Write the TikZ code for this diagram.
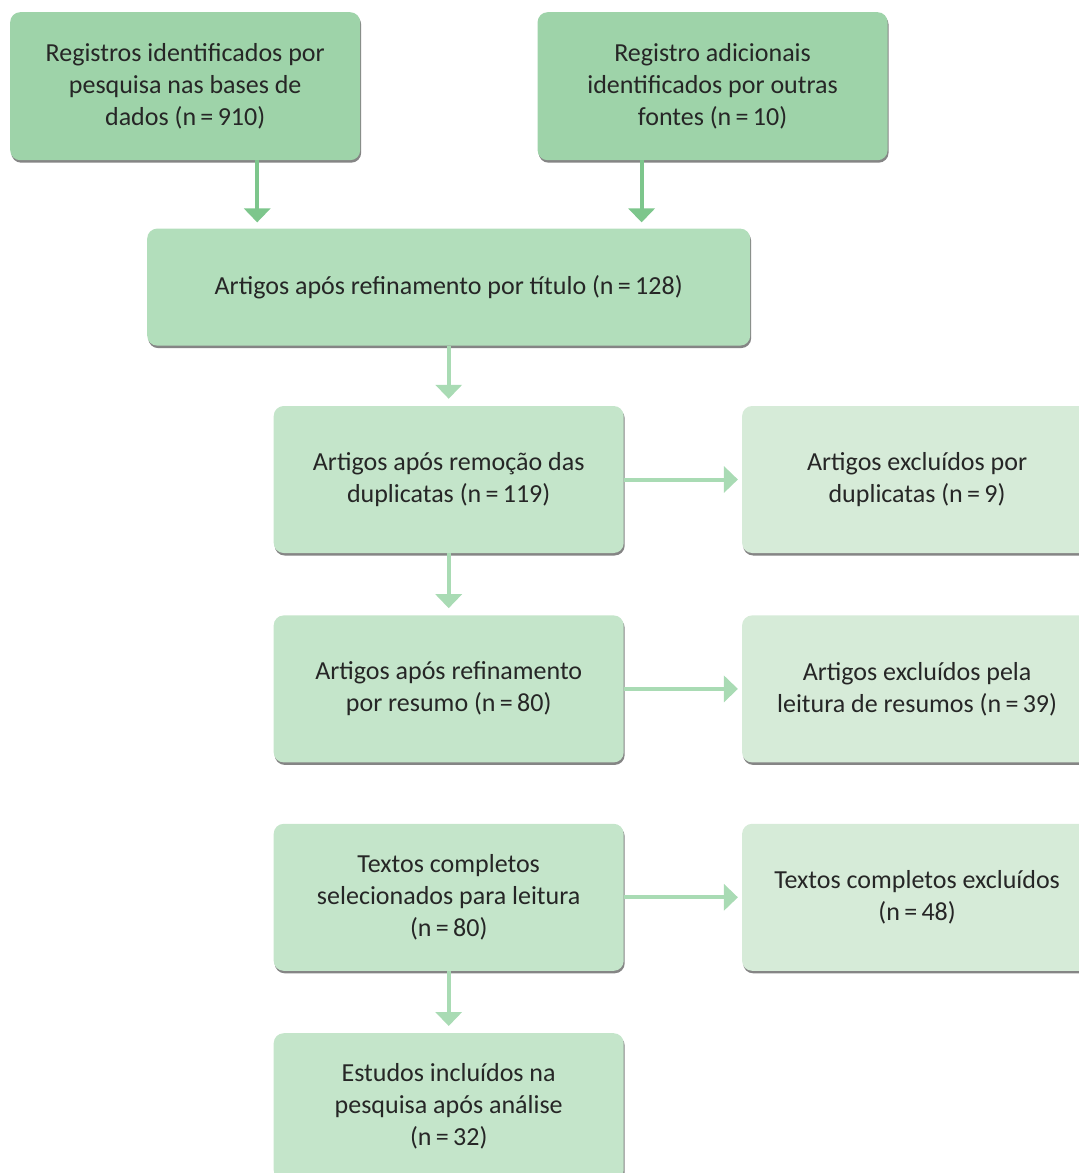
\documentclass[tikz,border=0pt]{standalone}
\usepackage{fontspec}
\setmainfont{Carlito}
\usetikzlibrary{arrows.meta,shadows}
\definecolor{boxtop}{HTML}{9ED3A9}
\definecolor{boxmid}{HTML}{B2DEBB}
\definecolor{boxleft}{HTML}{C4E5CA}
\definecolor{boxright}{HTML}{D6EBD8}
\definecolor{arrowdark}{HTML}{7DC68C}
\definecolor{arrowlight}{HTML}{A9DBB4}
\definecolor{textgray}{HTML}{262626}
\begin{document}
\begin{tikzpicture}
\begin{scope}

\tikzstyle{box} = [minimum width=350pt,minimum height=147pt,rounded corners=10pt,align=center,text=textgray,font=\fontsize{26pt}{32pt}\selectfont,drop shadow={shadow xshift=1pt,shadow yshift=-2.5pt,fill=black!60,opacity=0.8}];
\tikzstyle{node1} = [box,fill=boxtop,minimum height=148pt];
\tikzstyle{node2} = [box,fill=boxmid,minimum width=603pt,minimum height=117pt];
\tikzstyle{node3} = [box,fill=boxleft];
\tikzstyle{node4} = [box,fill=boxright];
\tikzstyle{arrow1} = [line width=4pt,draw=arrowdark,-{Triangle[width=26pt,length=14pt]}];
\tikzstyle{arrow2} = [line width=4pt,draw=arrowlight,-{Triangle[width=26pt,length=14pt]}];

\useasboundingbox (0,0) rectangle (1079pt,-1173pt);

\node [node1,anchor=north west] (s1) at (10pt,-12pt) {Registros identificados por\\pesquisa nas bases de\\dados (n\,=\,910)};
\node [node1,anchor=north west] (s2) at ([xshift=177pt]s1.north east) {Registro adicionais\\identificados por outras\\fontes (n\,=\,10)};
\node [node2,anchor=north west] (c1) at ([xshift=137pt,yshift=-68pt]s1.south west) {Artigos após refinamento por título (n\,=\,128)};

\node [node3,anchor=north] (d1) at ([yshift=-60pt]c1.south) {Artigos após remoção das\\duplicatas (n\,=\,119)};
\node [node4,anchor=west] (e1) at ([xshift=118pt]d1.east) {Artigos excluídos por\\duplicatas (n\,=\,9)};
\node [node3,anchor=north] (f1) at ([yshift=-62pt]d1.south) {Artigos após refinamento\\por resumo (n\,=\,80)};
\node [node4,anchor=west] (g1) at ([xshift=118pt]f1.east) {Artigos excluídos pela\\leitura de resumos (n\,=\,39)};
\node [node3,anchor=north] (h1) at ([yshift=-61pt]f1.south) {Textos completos\\selecionados para leitura\\(n\,=\,80)};
\node [node4,anchor=west] (i1) at ([xshift=118pt]h1.east) {Textos completos excluídos\\(n\,=\,48)};
\node [node3,anchor=north] (j1) at ([yshift=-62pt]h1.south) {Estudos incluídos na\\pesquisa após análise\\(n\,=\,32)};

\draw [arrow1,shorten >=6pt] ([xshift=72pt]s1.south) -- ([xshift=72pt]s1.south |- c1.north);
\draw [arrow1,shorten >=6pt] ([xshift=-71pt]s2.south) -- ([xshift=-71pt]s2.south |- c1.north);
\draw [arrow2,shorten >=7pt] (c1.south) -- (d1.north);
\draw [arrow2,shorten >=4pt] (d1.east) -- (e1.west);
\draw [arrow2,shorten >=7pt] (d1.south) -- (f1.north);
\draw [arrow2,shorten >=4pt] (f1.east) -- (g1.west);
\draw [arrow2,shorten >=4pt] (h1.east) -- (i1.west);
\draw [arrow2,shorten >=7pt] (h1.south) -- (j1.north);

\end{scope}
\end{tikzpicture}
\end{document}
